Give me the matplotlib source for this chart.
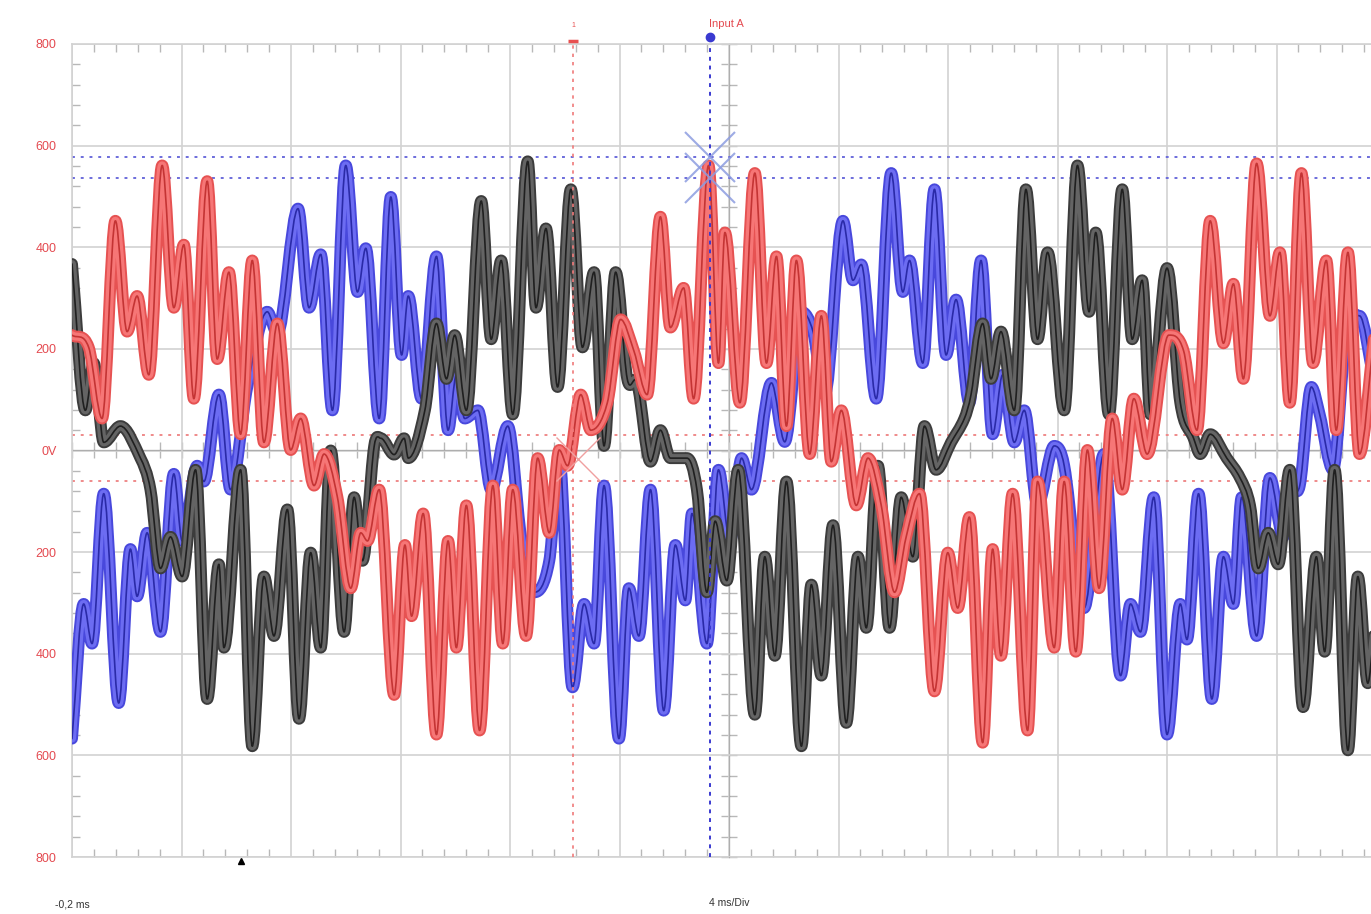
import numpy as np
import matplotlib
matplotlib.use("Agg")
import matplotlib.pyplot as plt
from matplotlib.path import Path
from matplotlib.patches import PathPatch
from matplotlib.ticker import FixedLocator, MultipleLocator, NullFormatter

# ---------------- data (time in ms, amplitude in mV) ----------------
red_t = [-0.2, 0.41, 0.898, 1.385, 1.812, 2.178, 2.605, 3.093, 3.52, 3.885, 4.251, 4.739,
         5.105, 5.532, 5.958, 6.385, 6.812, 7.3, 7.788, 8.154, 8.641, 9.007, 9.495, 9.983,
         10.349, 10.593, 11.02, 11.568, 11.962, 12.204, 12.628, 13.113, 13.537, 13.84, 14.204,
         14.689, 15.174, 15.537, 15.901, 16.386, 16.81, 17.234, 17.598, 17.901, 18.385, 18.749,
         19.355, 19.84, 20.325, 20.809, 21.294, 21.658, 22.143, 22.506, 23.052, 23.415, 23.649,
         24.196, 24.743, 25.168, 25.532, 25.897, 26.261, 26.747, 27.173, 27.537, 27.902, 28.448,
         28.874, 29.36, 29.846, 30.271, 30.757, 31.304, 31.79, 32.154, 32.579, 33.065, 33.43,
         33.734, 34.159, 34.706, 35.07, 35.679, 36.043, 36.467, 36.891, 37.315, 37.8, 38.164,
         38.588, 39.073, 39.861, 40.406, 40.891, 41.376, 41.86, 42.224, 42.588, 43.072, 43.557,
         43.921, 44.284, 44.709, 45.133, 45.618, 45.981, 46.406, 46.83, 47.351]
red_v = [227, 203, 63, 452, 234, 304, 149, 561, 281, 405, 102, 530,
         180, 351, 32, 374, 16, 250, 1, 63, -69, -7, -92, -271,
         -162, -178, -77, -481, -186, -326, -124, -559, -178, -388, -108,
         -551, -69, -380, -77, -365, -15, -162, 1, -30, 110, 40,
         94, 258, 196, 110, 460, 242, 320, 102, 561, 172, 429,
         94, 546, 172, 382, 48, 374, -7, 265, -22, 79, -108,
         -15, -108, -279, -170, -85, -474, -201, -310, -131, -575, -194,
         -404, -85, -551, -61, -388, -61, -396, 1, -271, 63, -77,
         102, -7, 227, 196, 40, 452, 211, 328, 141, 565, 265,
         390, 94, 546, 172, 374, 40, 390, -7, 219]

blue_t = [-0.2, 0.227, 0.532, 0.959, 1.507, 1.934, 2.178, 2.544, 3.032, 3.52, 3.824, 4.373,
          4.617, 5.166, 5.593, 6.202, 6.934, 7.3, 8.056, 8.459, 8.885, 9.312, 9.8, 10.227,
          10.532, 11.02, 11.446, 11.841, 12.083, 12.568, 13.113, 13.537, 13.84, 14.143, 14.628,
          15.113, 15.719, 16.204, 16.689, 17.234, 17.598, 18.082, 18.507, 18.87, 19.234, 19.779,
          20.143, 20.506, 20.931, 21.415, 21.84, 22.203, 22.446, 22.991, 23.415, 23.831, 24.257,
          24.621, 25.35, 25.836, 26.444, 26.869, 27.294, 27.962, 28.327, 28.631, 29.177, 29.724,
          30.149, 30.392, 30.878, 31.304, 31.729, 32.093, 32.579, 33.005, 33.43, 33.794, 34.22,
          34.584, 35.07, 35.678, 36.043, 36.77, 37.497, 38.103, 38.467, 38.83, 39.315, 39.8,
          40.285, 40.527, 40.951, 41.437, 41.86, 42.224, 42.527, 43.072, 43.557, 44.042, 44.284,
          44.648, 45.072, 45.375, 45.86, 46.345, 46.83, 47.351]
blue_v = [-567, -302, -380, -85, -497, -194, -287, -162, -357, -46, -178, -30,
          -61, 110, -77, 125, 273, 230, 476, 281, 386, 79, 561, 312,
          398, 63, 499, 188, 304, 102, 382, 40, 149, 63, 79,
          -77, 48, -170, -279, -217, -15, -466, -302, -380, -69, -567,
          -271, -365, -77, -512, -186, -295, -124, -380, -38, -178, -15,
          -77, 133, 17, 273, 234, 110, 452, 335, 366, 102, 546,
          312, 374, 172, 514, 188, 297, 94, 374, 32, 149, 16,
          79, -108, 9, -30, -310, -7, -443, -302, -357, -92, -559,
          -302, -372, -85, -489, -209, -302, -92, -365, -54, -170, -77,
          -69, 125, 71, -38, 234, 265, 141]

black_t = [-0.2, 0.288, 0.593, 0.959, 1.568, 2.3, 2.666, 3.032, 3.398, 3.824, 4.312, 4.739,
           5.166, 5.349, 5.958, 6.385, 6.812, 7.178, 7.666, 8.093, 8.519, 8.885, 9.251, 9.739,
           10.105, 10.41, 10.837, 11.08, 11.568, 11.934, 12.083, 12.689, 13.113, 13.477, 13.78,
           14.204, 14.749, 15.113, 15.477, 15.901, 16.446, 16.749, 17.113, 17.537, 18.022, 18.446,
           18.87, 19.234, 19.658, 20.082, 20.446, 20.931, 21.294, 21.658, 22.264, 22.627, 22.991,
           23.294, 23.718, 24.135, 24.743, 25.107, 25.472, 25.897, 26.444, 26.808, 27.173, 27.598,
           28.084, 28.509, 28.813, 29.238, 29.663, 30.089, 30.514, 30.939, 31.364, 31.911, 32.397,
           32.64, 33.065, 33.369, 33.734, 34.22, 34.645, 35.07, 35.435, 36.043, 36.528, 36.952,
           37.194, 37.679, 38.164, 38.528, 38.891, 39.194, 39.8, 40.285, 40.77, 41.012, 41.376,
           41.982, 42.466, 42.83, 43.133, 43.497, 43.86, 44.284, 44.769, 45.254, 45.557, 45.921,
           46.406, 46.769, 47.133, 47.351]
black_v = [367, 79, 172, 16, 48, -15, -77, -232, -170, -248, -38, -489,
           -224, -388, -38, -582, -248, -365, -116, -528, -201, -388, 0, -357,
           -92, -217, 8, 24, -8, 24, -15, 79, 250, 141, 227,
           79, 491, 219, 374, 71, 569, 281, 437, 125, 514, 203,
           351, 9, 351, 141, 133, -22, 40, -15, -15, -77, -279,
           -139, -256, -38, -520, -209, -404, -61, -582, -264, -443, -147,
           -536, -209, -349, -30, -349, -92, -209, 48, -38, 16, 63,
           110, 250, 141, 234, 79, 514, 219, 390, 79, 561, 273,
           429, 71, 514, 219, 335, 71, 359, 94, 24, -7, 32,
           -15, -54, -108, -232, -162, -224, -38, -505, -209, -396, -38,
           -590, -248, -458, -365]

y_tick_values = [800, 600, 400, 200, 0, -200, -400, -600, -800]
y_tick_labels = ["800", "600", "400", "200", "0V", "200", "400", "600", "800"]

t_start = -0.2          # ms at left edge
ms_per_div = 4
t_end = 47.25           # visible right edge (screen is cut)
center_t = t_start + 6 * ms_per_div

cursor_red_t = 18.1
cursor_blue_t = 23.1
blue_levels = [578, 536]
red_levels = [30, -61]
red_marker_v = -16
trigger_t = 5.97

# ---------------- figure ----------------
W, H = 1371, 914
fig = plt.figure(figsize=(W / 100, H / 100), dpi=100)
fig.patch.set_facecolor("white")
ax = fig.add_axes([72 / W, 57 / H, 1299 / W, 813 / H])
ax.set_facecolor("white")
ax.set_xlim(t_start, t_end)
ax.set_ylim(-800, 800)

grid_c = "#d2d2d2"
tick_c = "#b8b8b8"
lab_red = "#e44a50"
font = "Liberation Sans"

# grid
ax.set_xticks(np.arange(t_start, t_end, ms_per_div))
ax.set_yticks(y_tick_values)
ax.set_yticklabels(y_tick_labels, color=lab_red, fontsize=9, family=font)
ax.xaxis.set_major_formatter(NullFormatter())
ax.grid(True, color=grid_c, lw=1.2, zorder=0)
ax.set_axisbelow(True)
ax.xaxis.set_minor_locator(FixedLocator(np.arange(t_start, t_end, ms_per_div / 5)))
ax.yaxis.set_minor_locator(MultipleLocator(40))
ax.tick_params(axis="x", which="both", direction="in", top=True, bottom=True,
               color=tick_c, labelbottom=False)
ax.tick_params(axis="x", which="major", length=0)
ax.tick_params(axis="x", which="minor", length=6, width=1)
ax.tick_params(axis="y", which="major", direction="in", length=0, pad=11)
ax.tick_params(axis="y", which="minor", direction="in", length=6, width=1, color=tick_c)
for s in ["left", "top", "bottom"]:
    ax.spines[s].set_color(grid_c)
    ax.spines[s].set_linewidth(1.2)
ax.spines["right"].set_visible(False)

# centre axes with ticks
frac = (center_t - t_start) / (t_end - t_start)
sy = ax.secondary_yaxis(frac)
sy.set_yticks([])
sy.yaxis.set_minor_locator(MultipleLocator(40))
sy.tick_params(which="minor", direction="inout", length=12, width=1, color=tick_c,
               labelleft=False, labelright=False)
sy.spines["left"].set_color(grid_c)
sy.spines["left"].set_linewidth(1.2)
sx = ax.secondary_xaxis(0.5)
sx.set_xticks([])
sx.xaxis.set_minor_locator(FixedLocator(np.arange(t_start, t_end, ms_per_div / 5)))
sx.tick_params(which="minor", direction="inout", length=12, width=1, color=tick_c,
               labelbottom=False, labeltop=False)
sx.spines["bottom"].set_color(grid_c)
sx.spines["bottom"].set_linewidth(1.2)

# horizontal cursor levels
for v in blue_levels:
    ax.axhline(v, color="#6d6ddc", lw=1.4, ls=(0, (1.5, 3)), zorder=1)
for v in red_levels:
    ax.axhline(v, color="#ef8a8a", lw=1.4, ls=(0, (1.5, 3)), zorder=1)


def smooth_path(t, v):
    """Smooth (Hermite/Bezier) rendering of the line through the read points."""
    t = np.asarray(t, float)
    v = np.asarray(v, float)
    n = len(t)
    m = np.zeros(n)
    for i in range(n):
        if i == 0:
            m[i] = (v[1] - v[0]) / (t[1] - t[0])
        elif i == n - 1:
            m[i] = (v[-1] - v[-2]) / (t[-1] - t[-2])
        else:
            d0 = v[i] - v[i - 1]
            d1 = v[i + 1] - v[i]
            if d0 * d1 <= 0:
                m[i] = 0.0
            else:
                m[i] = (v[i + 1] - v[i - 1]) / (t[i + 1] - t[i - 1])
    verts = [(t[0], v[0])]
    codes = [Path.MOVETO]
    for i in range(n - 1):
        h = t[i + 1] - t[i]
        verts += [(t[i] + h / 3, v[i] + m[i] * h / 3),
                  (t[i + 1] - h / 3, v[i + 1] - m[i + 1] * h / 3),
                  (t[i + 1], v[i + 1])]
        codes += [Path.CURVE4] * 3
    return Path(verts, codes)


def trace(t, v, outer, inner, core, z):
    p = smooth_path(t, v)
    for col, lw, dz in [(outer, 8.6, 0), (inner, 5.8, 0.1), (core, 1.2, 0.2)]:
        ax.add_patch(PathPatch(p, fill=False, edgecolor=col, lw=lw, joinstyle="round",
                               capstyle="round", zorder=z + dz))


trace(blue_t, blue_v, "#4848dc", "#6c6cf2", "#2a2aa8", 3)
trace(black_t, black_v, "#3c3c3c", "#646464", "#202020", 4)
trace(red_t, red_v, "#e65252", "#f67676", "#c43434", 5)

# vertical cursors
ax.axvline(cursor_red_t, color="#f07a7a", lw=1.2, ls=(0, (2, 3)), zorder=6)
ax.axvline(cursor_blue_t, color="#3a3ad0", lw=1.4, ls=(0, (2, 2.5)), zorder=6)
xt = ax.get_xaxis_transform()
ax.plot([cursor_blue_t], [1.008], transform=xt, marker="o", ms=6, color="#3a3ad0",
        clip_on=False, zorder=7)
ax.plot([cursor_red_t], [1.004], transform=xt, marker="_", ms=7, mew=2.5, color="#e85050",
        clip_on=False, zorder=7)
ax.text(cursor_red_t, 1.018, "1", transform=xt, color="#e85050", fontsize=5,
        ha="center", va="bottom", family=font)
ax.text(center_t - 0.1, 1.018, "Input A", transform=xt, color=lab_red, fontsize=8,
        ha="center", va="bottom", family=font)

# cursor cross markers
for v in blue_levels:
    ax.plot([cursor_blue_t], [v], marker="x", ms=36, mew=1.5, color="#8c9ce0",
            alpha=0.85, zorder=8)
ax.plot([cursor_red_t + 0.2], [red_marker_v], marker="x", ms=32, mew=1.0, color="#f0a0a0",
        zorder=8)

# trigger marker
ax.plot([trigger_t], [-0.005], transform=xt, marker="^", ms=5, color="black",
        clip_on=False, zorder=8)

# bottom labels
ax.text(t_start, -0.059, "-0,2 ms", transform=xt, ha="center", va="center",
        fontsize=7.5, color="#333333", family=font)
ax.text(center_t, -0.056, "4 ms/Div", transform=xt, ha="center", va="center",
        fontsize=7.5, color="#333333", family=font)

fig.savefig("out.png", dpi=100, facecolor="white")
